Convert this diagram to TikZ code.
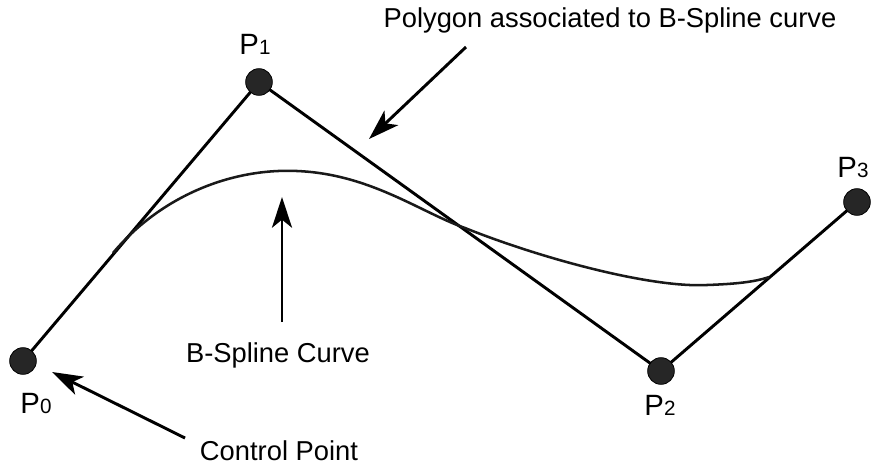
\documentclass[tikz,border=0pt]{standalone}
\usepackage{fontspec}
\setmainfont{Liberation Sans}
\usetikzlibrary{arrows.meta,backgrounds}
\begin{document}
\begin{tikzpicture}[x=0.75pt,y=-0.75pt,
  ctrl/.style={circle,fill=black!85,draw=black,line width=0.6pt,minimum size=20pt,inner sep=0pt},
  poly/.style={line width=2.2pt,black},
  spline/.style={line width=1.9pt,black!90},
  pointer/.style={line width=2.2pt,-{Stealth[length=23pt,width=15pt,inset=6pt]}},
  lbl/.style={font=\fontsize{20.5}{24}\selectfont,inner sep=0pt,anchor=base},
  plbl/.style={font=\fontsize{22}{26}\selectfont,inner sep=0pt,anchor=base}]
\useasboundingbox (0,0) rectangle (872,465);
% control points
\node[ctrl] (p0) at (23,361) {};
\node[ctrl] (p1) at (259,82) {};
\node[ctrl] (p2) at (661,371) {};
\node[ctrl] (p3) at (857,202) {};
% control polygon and curve behind the points
\begin{scope}[on background layer]
\draw[poly] (p0.center) -- (p1.center) -- (p2.center) -- (p3.center);
\end{scope}
% curve
\coordinate (cs) at (113,253);
\coordinate (ce) at (769,277);
\draw[spline] (cs) .. controls (160,197) and (230,168) .. (297,171)
  .. controls (370,174) and (420,212) .. (465,228)
  .. controls (540,258) and (650,288) .. (707,285)
  .. controls (735,284) and (755,282) .. (ce);
% labels of points
\node[plbl] (l1) at (255,54) {P{\fontsize{15.5}{18}\selectfont 1}};
\node[plbl] (l0) at (36,413) {P{\fontsize{15.5}{18}\selectfont 0}};
\node[plbl] (l2) at (660,415) {P{\fontsize{15.5}{18}\selectfont 2}};
\node[plbl] (l3) at (853,177) {P{\fontsize{15.5}{18}\selectfont 3}};
% annotations
\node[lbl] (tpoly) at (610,27) {Polygon associated to B-Spline curve};
\node[lbl] (tcurve) at (278,362) {B-Spline Curve};
\node[lbl] (tctrl) at (279,460) {Control Point};
\coordinate (a1s) at (466,47);
\coordinate (a1e) at (369,139);
\coordinate (a2s) at (282,322);
\coordinate (a2e) at (282,197);
\coordinate (a3s) at (185,438);
\coordinate (a3e) at (52,372);
\draw[pointer] (a1s) -- (a1e);
\draw[pointer] (a2s) -- (a2e);
\draw[pointer] (a3s) -- (a3e);
\end{tikzpicture}
\end{document}
